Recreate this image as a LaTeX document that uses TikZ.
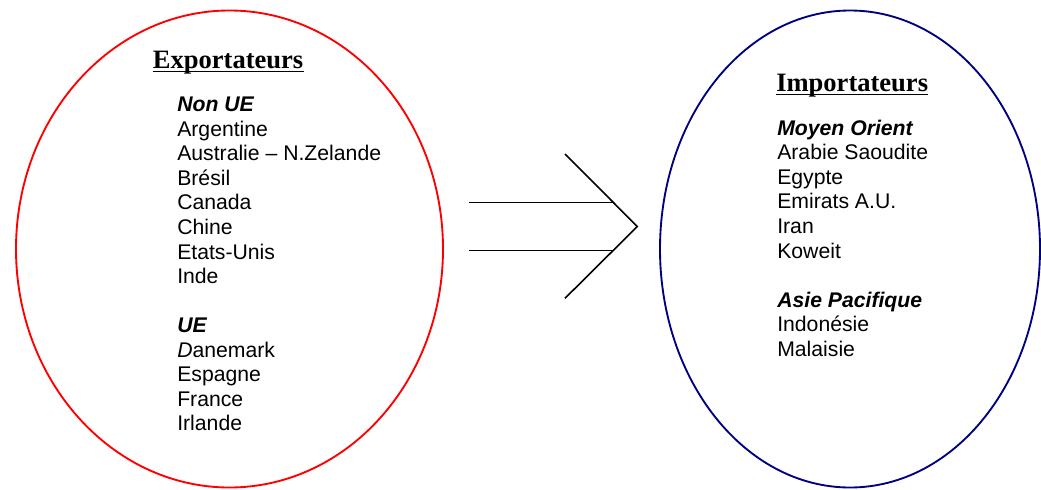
\documentclass[tikz,border=0pt]{standalone}
\usepackage{fontspec}
\setmainfont{Liberation Sans}
\newfontfamily\ttlserif{Liberation Serif}
\usetikzlibrary{calc}
\definecolor{navyb}{RGB}{0,0,128}
\begin{document}
\begin{tikzpicture}[x=0.75pt,y=-0.75pt,
  item/.style={anchor=base west, inner sep=0pt, font=\fontsize{15.9}{18}\selectfont},
  head/.style={item, font=\fontsize{15.9}{18}\selectfont\bfseries\itshape},
  ttl/.style={anchor=base west, inner sep=0pt, font=\fontsize{19.9}{22}\selectfont\ttlserif\bfseries},
  uline/.style={line width=1pt},
  oval/.style={line width=1.4pt},
  arrowline/.style={line width=1.2pt, black}]
\useasboundingbox (0,0) rectangle (1041,489);
% ellipses
\draw[oval, red] (229.5,249) ellipse [x radius=160.125pt, y radius=178.875pt];
\draw[oval, navyb] (850,249) ellipse [x radius=142.5pt, y radius=178.875pt];
% titles
\node[ttl] (exp) at (152.7,68.3) {Exportateurs};
\draw[uline] ($(exp.base west)+(0,3)$) -- ($(exp.base east)+(0,3)$);
\node[ttl] (imp) at (776,91.3) {Importateurs};
\draw[uline] ($(imp.base west)+(0,3.4)$) -- ($(imp.base east)+(0,3.4)$);
% left list
\node[head] (l0) at (177,111.7) {Non UE};
\node[item] (l1) at (177,136.26) {Argentine};
\node[item] (l2) at (177,160.82) {Australie – N.Zelande};
\node[item] (l3) at (177,185.38) {Brésil};
\node[item] (l4) at (177,209.94) {Canada};
\node[item] (l5) at (177,234.5) {Chine};
\node[item] (l6) at (177,259.06) {Etats-Unis};
\node[item] (l7) at (177,283.62) {Inde};
\node[head] (l9) at (177,332.74) {UE};
\node[item] (l10) at (177,357.3) {\textit{D}anemark};
\node[item] (l11) at (177,381.86) {Espagne};
\node[item] (l12) at (177,406.42) {France};
\node[item] (l13) at (177,430.98) {Irlande};
% right list
\node[head] (r0) at (777,135) {Moyen Orient};
\node[item] (r1) at (777,159.6) {Arabie Saoudite};
\node[item] (r2) at (777,184.2) {Egypte};
\node[item] (r3) at (777,208.8) {Emirats A.U.};
\node[item] (r4) at (777,233.4) {Iran};
\node[item] (r5) at (777,258) {Koweit};
\node[head] (r7) at (777,307.2) {Asie Pacifique};
\node[item] (r8) at (777,331.8) {Indonésie};
\node[item] (r9) at (777,356.4) {Malaisie};
% arrow
\coordinate (a1) at (469,202.3);
\coordinate (b1) at (613,202.3);
\coordinate (a2) at (469,250.3);
\coordinate (b2) at (613,250.3);
\coordinate (ctop) at (565,154);
\coordinate (ctip) at (637.3,226.5);
\coordinate (cbot) at (565,298.3);
\draw[arrowline] (a1) -- (b1);
\draw[arrowline] (a2) -- (b2);
\draw[arrowline, line join=miter] (ctop) -- (ctip) -- (cbot);
\end{tikzpicture}
\end{document}
